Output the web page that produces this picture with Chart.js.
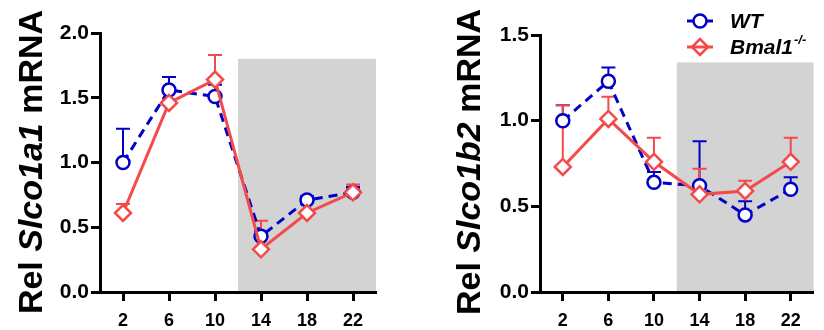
<!DOCTYPE html>
<html>
<head>
<meta charset="utf-8">
<script src="https://cdn.jsdelivr.net/npm/chart.js@4.4.0/dist/chart.umd.min.js"></script>
<style>
  body { margin: 0; background: #fff; }
  .panel { position: absolute; top: 0; }
</style>
</head>
<body>
<div class="panel" style="left:0px"><canvas id="chartA" width="400" height="330"></canvas></div>
<div class="panel" style="left:430px"><canvas id="chartB" width="394" height="330"></canvas></div>
<script>
// Zeitpunkte (ZT) und Werte
const times = [2, 6, 10, 14, 18, 22];
const darkPhase = [12, 24];

// Slco1a1
const wtA = [1.0, 1.56, 1.51, 0.43, 0.71, 0.77];
const wtA_sem = [0.26, 0.10, 0.09, 0.04, 0.03, 0.04];
const koA = [0.61, 1.46, 1.64, 0.33, 0.61, 0.77];
const koA_sem = [0.07, 0.03, 0.19, 0.22, 0.09, 0.06];
const yTicksA = [0, 0.5, 1.0, 1.5, 2.0];
const shadeTopA = 1.8;

// Slco1b2
const wtB = [1.0, 1.23, 0.64, 0.62, 0.45, 0.60];
const wtB_sem = [0.09, 0.08, 0.06, 0.26, 0.08, 0.07];
const koB = [0.73, 1.01, 0.76, 0.57, 0.59, 0.76];
const koB_sem = [0.36, 0.13, 0.14, 0.15, 0.06, 0.14];
const yTicksB = [0, 0.5, 1.0, 1.5];
const shadeTopB = 1.34;

const BLUE = '#0000c8';
const RED = '#f44a4a';
const FONT = '"Liberation Sans", Arial, Helvetica, sans-serif';

function toPoints(vals) {
    return vals.map((v, i) => ({ x: times[i], y: v }));
}

// grauer Kasten für die Dunkelphase
const shadePlugin = {
    id: 'shade',
    beforeDraw(chart) {
        const top = chart.options.plugins.shade.top;
        const ctx = chart.ctx, xs = chart.scales.x, ys = chart.scales.y;
        const x0 = xs.getPixelForValue(darkPhase[0]);
        const x1 = xs.getPixelForValue(darkPhase[1]);
        const y0 = ys.getPixelForValue(top);
        const y1 = ys.getPixelForValue(0);
        ctx.save();
        ctx.fillStyle = '#d3d3d3';
        ctx.fillRect(x0, y0, x1 - x0, y1 - y0);
        ctx.restore();
    }
};

// Fehlerbalken (nur nach oben)
const errPlugin = {
    id: 'errBars',
    beforeDatasetsDraw(chart) {
        const ctx = chart.ctx, xs = chart.scales.x, ys = chart.scales.y;
        ctx.save();
        chart.data.datasets.slice().reverse().forEach(ds => {
            ctx.strokeStyle = ds.borderColor;
            ctx.lineWidth = 2;
            ds.data.forEach((p, i) => {
                const x = xs.getPixelForValue(p.x);
                const y0 = ys.getPixelForValue(p.y);
                const y1 = ys.getPixelForValue(p.y + ds.sem[i]);
                ctx.beginPath();
                ctx.moveTo(x, y0);
                ctx.lineTo(x, y1);
                ctx.moveTo(x - 7, y1);
                ctx.lineTo(x + 7, y1);
                ctx.stroke();
            });
        });
        ctx.restore();
    }
};

// Achsentitel mit kursivem Gennamen
const yTitlePlugin = {
    id: 'yTitle',
    afterDraw(chart) {
        const o = chart.options.plugins.yTitle;
        const ctx = chart.ctx;
        const size = 34;
        const parts = [
            { t: 'Rel ', f: 'bold ' + size + 'px ' + FONT },
            { t: o.gene, f: 'italic bold ' + size + 'px ' + FONT },
            { t: ' mRNA', f: 'bold ' + size + 'px ' + FONT }
        ];
        let total = 0;
        parts.forEach(p => { ctx.font = p.f; p.w = ctx.measureText(p.t).width; total += p.w; });
        ctx.save();
        ctx.translate(o.x, o.y);
        ctx.rotate(-Math.PI / 2);
        ctx.fillStyle = '#000';
        ctx.textBaseline = 'alphabetic';
        let pos = -total / 2;
        parts.forEach(p => {
            ctx.font = p.f;
            ctx.fillText(p.t, pos, 0);
            pos += p.w;
        });
        ctx.restore();
    }
};

// Legende oben rechts
const legendPlugin = {
    id: 'legendBox',
    afterDraw(chart) {
        const o = chart.options.plugins.legendBox;
        if (!o.show) return;
        const ctx = chart.ctx;
        ctx.save();
        // WT
        ctx.strokeStyle = BLUE;
        ctx.lineWidth = 3;
        ctx.beginPath(); ctx.moveTo(o.x - 13, 21); ctx.lineTo(o.x + 13, 21); ctx.stroke();
        ctx.fillStyle = '#fff';
        ctx.lineWidth = 2.5;
        ctx.beginPath(); ctx.arc(o.x, 21, 6.5, 0, Math.PI * 2); ctx.fill(); ctx.stroke();
        // Bmal1
        ctx.strokeStyle = RED;
        ctx.lineWidth = 3;
        ctx.beginPath(); ctx.moveTo(o.x - 13, 47); ctx.lineTo(o.x + 13, 47); ctx.stroke();
        ctx.lineWidth = 2.5;
        ctx.beginPath();
        ctx.moveTo(o.x, 47 - 8); ctx.lineTo(o.x + 8, 47); ctx.lineTo(o.x, 47 + 8); ctx.lineTo(o.x - 8, 47);
        ctx.closePath(); ctx.stroke();

        ctx.fillStyle = '#000';
        ctx.textBaseline = 'middle';
        ctx.font = 'italic bold 21px ' + FONT;
        ctx.fillText('WT', o.x + 30, 22);
        ctx.fillText('Bmal1', o.x + 30, 48);
        const w = ctx.measureText('Bmal1').width;
        ctx.font = 'italic bold 13px ' + FONT;
        ctx.fillText('-/-', o.x + 31 + w, 40);
        ctx.restore();
    }
};

function makePanel(canvasId, wt, wtSem, ko, koSem, yTicks, shadeTop, gene, layout) {
    const ctx = document.getElementById(canvasId).getContext('2d');
    return new Chart(ctx, {
        type: 'line',
        data: {
            datasets: [
                {
                    label: 'Bmal1-/-',
                    data: toPoints(ko),
                    sem: koSem,
                    borderColor: RED,
                    borderWidth: 3,
                    pointStyle: 'rectRot',
                    pointRadius: 8,
                    pointBorderWidth: 2.5,
                    pointBackgroundColor: '#fff',
                    pointBorderColor: RED,
                    tension: 0,
                    clip: false
                },
                {
                    label: 'WT',
                    data: toPoints(wt),
                    sem: wtSem,
                    borderColor: BLUE,
                    borderWidth: 3,
                    borderDash: [9, 6],
                    pointStyle: 'circle',
                    pointRadius: 6.5,
                    pointBorderWidth: 2.5,
                    pointBackgroundColor: '#fff',
                    pointBorderColor: BLUE,
                    tension: 0,
                    clip: false
                }
            ]
        },
        options: {
            responsive: false,
            animation: false,
            layout: { padding: { top: layout.top, right: layout.right, left: 0, bottom: 0 } },
            plugins: {
                legend: { display: false },
                tooltip: { enabled: false },
                shade: { top: shadeTop },
                yTitle: { gene: gene, x: layout.titleX, y: 162 },
                legendBox: { show: layout.legend, x: layout.legendX }
            },
            scales: {
                x: {
                    type: 'linear',
                    min: 0,
                    max: 24,
                    afterBuildTicks: s => { s.ticks = times.map(v => ({ value: v })); },
                    afterFit: s => { s.height = 38; },
                    grid: { display: true, drawOnChartArea: false, drawTicks: true, tickLength: 9, tickWidth: 3, tickColor: '#000' },
                    border: { display: true, color: '#000', width: 3 },
                    ticks: { color: '#000', font: { family: FONT, size: 18, weight: 'bold' }, padding: 9, maxRotation: 0 }
                },
                y: {
                    min: 0,
                    max: yTicks[yTicks.length - 1],
                    afterBuildTicks: s => { s.ticks = yTicks.map(v => ({ value: v })); },
                    afterFit: s => { s.width = layout.yWidth; },
                    grid: { display: true, drawOnChartArea: false, drawTicks: true, tickLength: 9, tickWidth: 3, tickColor: '#000' },
                    border: { display: true, color: '#000', width: 3 },
                    ticks: {
                        color: '#000',
                        font: { family: FONT, size: 21, weight: 'bold' },
                        padding: 2,
                        callback: v => v.toFixed(1)
                    }
                }
            }
        },
        plugins: [shadePlugin, errPlugin, yTitlePlugin, legendPlugin]
    });
}

makePanel('chartA', wtA, wtA_sem, koA, koA_sem, yTicksA, shadeTopA, 'Slco1a1',
    { top: 33, right: 24, yWidth: 100, titleX: 42, legend: false, legendX: 0 });
makePanel('chartB', wtB, wtB_sem, koB, koB_sem, yTicksB, shadeTopB, 'Slco1b2',
    { top: 35, right: 8, yWidth: 110, titleX: 50, legend: true, legendX: 270 });
</script>
</body>
</html>
